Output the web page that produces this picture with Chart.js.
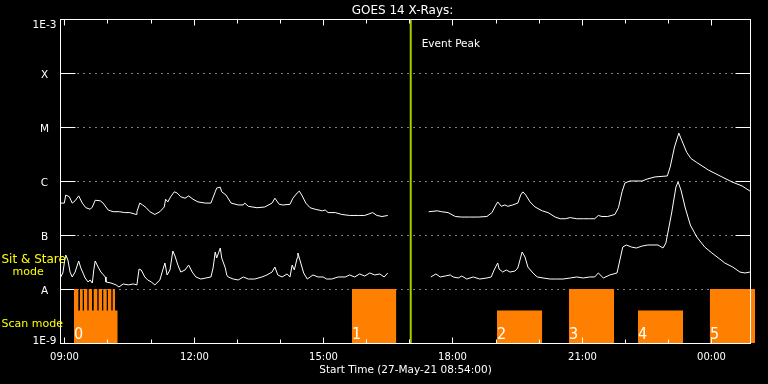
<!DOCTYPE html>
<html>
<head>
<meta charset="utf-8">
<title>GOES 14 X-Rays</title>
<script src="https://cdn.jsdelivr.net/npm/chart.js@4.4.1/dist/chart.umd.min.js"></script>
<style>
  html, body { margin: 0; padding: 0; background: #000; }
  canvas { display: block; }
</style>
</head>
<body>
<canvas id="goesChart" width="768" height="384"></canvas>
<script>
// all times are minutes after the start time 27-May-21 08:54:00
const startClock = 8 * 60 + 54;
const plotEnd = 960;   // right edge of the frame (00:54)
const scaleEnd = 967;  // the last scan block runs a bit past the frame

const titleText = 'GOES 14 X-Rays:';
const xTitleText = 'Start Time (27-May-21 08:54:00)';

// GOES 14 long channel (1-8 A), W/m^2
const longTimes = [
  1, 6, 8, 13, 17, 21, 26, 31, 36, 42,
  45, 49, 56, 60, 67, 74, 83, 90, 97, 106,
  107, 111, 115, 120, 125, 132, 139, 145, 147, 150,
  154, 159, 163, 168, 174, 179, 185, 192, 202, 210,
  216, 218, 223, 225, 231, 238, 248, 255, 257, 262,
  274, 285, 295, 299, 305, 310, 320, 324, 330, 333,
  337, 342, 348, 355, 365, 369, 373, 383, 392, 403,
  415, 424, 435, 441, 448, 456, 480, 513, 525, 531,
  540, 550, 559, 570, 582, 594, 601, 605, 609, 614,
  619, 623, 630, 637, 641, 644, 648, 654, 661, 671,
  679, 689, 696, 703, 710, 719, 728, 737, 744, 749,
  754, 762, 772, 777, 782, 786, 793, 810, 817, 828,
  845, 849, 855, 861, 865, 872, 878, 886, 902, 921,
  935, 949, 960
];
const longFlux = [
  3.9e-7, 3.9e-7, 5.5e-7, 5.1e-7, 3.9e-7, 4.3e-7, 5.3e-7, 3.9e-7, 3.2e-7, 3.0e-7,
  3.3e-7, 4.4e-7, 4.3e-7, 3.9e-7, 2.9e-7, 2.7e-7, 2.7e-7, 2.6e-7, 2.6e-7, 2.4e-7,
  2.7e-7, 3.9e-7, 3.6e-7, 3.2e-7, 2.7e-7, 2.4e-7, 2.7e-7, 3.3e-7, 4.6e-7, 4.1e-7,
  5.1e-7, 6.3e-7, 6.0e-7, 5.1e-7, 4.8e-7, 5.3e-7, 4.6e-7, 4.1e-7, 3.9e-7, 3.9e-7,
  6.3e-7, 7.4e-7, 7.7e-7, 6.3e-7, 5.5e-7, 3.9e-7, 3.6e-7, 3.6e-7, 3.9e-7, 3.4e-7,
  3.2e-7, 3.3e-7, 3.9e-7, 4.8e-7, 3.7e-7, 3.6e-7, 3.7e-7, 4.8e-7, 6.0e-7, 6.5e-7,
  5.3e-7, 3.9e-7, 3.2e-7, 3.0e-7, 2.8e-7, 2.9e-7, 2.6e-7, 2.6e-7, 2.4e-7, 2.3e-7,
  2.3e-7, 2.3e-7, 2.6e-7, 2.3e-7, 2.2e-7, 2.3e-7, null, 2.7e-7, 2.8e-7, 2.7e-7,
  2.6e-7, 2.2e-7, 2.15e-7, 2.15e-7, 2.15e-7, 2.2e-7, 2.6e-7, 3.3e-7, 4.1e-7, 3.4e-7,
  3.6e-7, 3.4e-7, 3.6e-7, 3.9e-7, 5.5e-7, 6.3e-7, 5.5e-7, 4.1e-7, 3.3e-7, 2.8e-7,
  2.6e-7, 2.15e-7, 2.0e-7, 2.0e-7, 2.1e-7, 2.0e-7, 2.0e-7, 2.0e-7, 2.0e-7, 2.3e-7,
  2.2e-7, 2.2e-7, 2.4e-7, 3.2e-7, 6.3e-7, 9.2e-7, 1.0e-6, 1.0e-6, 1.09e-6, 1.19e-6,
  1.24e-6, 1.82e-6, 4.26e-6, 7.7e-6, 5.7e-6, 3.4e-6, 2.6e-6, 2.2e-6, 1.6e-6, 1.19e-6,
  9.6e-7, 8.1e-7, 6.5e-7
];

// GOES 14 short channel (0.5-4 A)
const shortTimes = [
  1, 4, 7, 8, 11, 14, 17, 21, 26, 29,
  35, 39, 42, 45, 47, 49, 53, 57, 63, 64,
  71, 78, 82, 88, 95, 102, 107, 110, 113, 118,
  122, 127, 132, 139, 143, 146, 149, 153, 157, 160,
  164, 168, 174, 179, 184, 189, 196, 203, 210, 213,
  216, 218, 223, 225, 230, 232, 234, 241, 248, 255,
  262, 271, 281, 288, 295, 299, 303, 309, 316, 320,
  323, 326, 330, 331, 335, 339, 344, 348, 352, 359,
  366, 371, 378, 387, 397, 403, 410, 417, 424, 431,
  438, 445, 451, 456, 480, 516, 523, 529, 536, 543,
  547, 554, 559, 566, 575, 584, 594, 600, 604, 609,
  611, 616, 621, 626, 633, 637, 640, 643, 647, 651,
  658, 664, 672, 682, 691, 700, 710, 719, 728, 737,
  744, 749, 756, 765, 775, 779, 783, 788, 795, 802,
  810, 818, 832, 839, 843, 851, 857, 860, 864, 870,
  877, 886, 897, 907, 918, 925, 936, 946, 953, 960
];
const shortFlux = [
  1.67e-8, 1.98e-8, 3.75e-8, 4.26e-8, 3.44e-8, 2.06e-8, 1.67e-8, 2.06e-8, 3.3e-8, 2.45e-8,
  1.6e-8, 1.35e-8, 1.47e-8, 1.29e-8, 2.25e-8, 3.3e-8, 2.55e-8, 2.06e-8, 1.67e-8, 1.35e-8,
  1.29e-8, 1.19e-8, 1.09e-8, 1.24e-8, 1.19e-8, 1.24e-8, 1.19e-8, 2.34e-8, 2.25e-8, 1.67e-8,
  1.47e-8, 1.35e-8, 1.19e-8, 1.47e-8, 2.25e-8, 3.03e-8, 1.82e-8, 2.25e-8, 5.05e-8, 4.08e-8,
  2.78e-8, 2.06e-8, 2.25e-8, 2.78e-8, 2.06e-8, 1.67e-8, 1.53e-8, 1.6e-8, 1.67e-8, 2.45e-8,
  4.84e-8, 3.75e-8, 5.74e-8, 3.75e-8, 2.45e-8, 1.82e-8, 1.67e-8, 1.53e-8, 1.47e-8, 1.67e-8,
  1.53e-8, 1.53e-8, 1.67e-8, 1.82e-8, 2.06e-8, 2.55e-8, 1.82e-8, 1.67e-8, 1.9e-8, 1.67e-8,
  2.78e-8, 2.25e-8, 3.75e-8, 4.64e-8, 3.03e-8, 1.98e-8, 1.53e-8, 1.67e-8, 1.82e-8, 1.67e-8,
  1.67e-8, 1.53e-8, 1.53e-8, 1.67e-8, 1.67e-8, 1.82e-8, 1.67e-8, 1.9e-8, 1.74e-8, 1.98e-8,
  1.82e-8, 1.9e-8, 1.67e-8, 1.98e-8, null, 1.67e-8, 1.9e-8, 1.67e-8, 1.74e-8, 1.82e-8,
  1.67e-8, 1.6e-8, 1.74e-8, 1.53e-8, 1.67e-8, 1.53e-8, 1.6e-8, 1.67e-8, 2.25e-8, 3.03e-8,
  2.34e-8, 2.06e-8, 2.25e-8, 2.06e-8, 2.15e-8, 2.45e-8, 3.44e-8, 4.84e-8, 3.91e-8, 2.55e-8,
  1.98e-8, 1.67e-8, 1.6e-8, 1.53e-8, 1.53e-8, 1.53e-8, 1.6e-8, 1.67e-8, 1.6e-8, 1.67e-8,
  1.67e-8, 1.98e-8, 1.6e-8, 1.82e-8, 1.98e-8, 3.44e-8, 5.99e-8, 6.53e-8, 5.99e-8, 5.74e-8,
  6.25e-8, 6.53e-8, 6.53e-8, 5.74e-8, 7.11e-8, 2.55e-7, 7.74e-7, 9.58e-7, 6.81e-7, 3.16e-7,
  1.53e-7, 9.18e-8, 5.99e-8, 4.64e-8, 3.59e-8, 3.03e-8, 2.55e-8, 2.06e-8, 1.98e-8, 2.06e-8
];

// observing mode blocks, top value 1E-8 = sit & stare, 4E-9 = scan
const scanStart = [19.5, 25.5, 27.8, 31.6, 33.4, 38.0, 39.9, 44.5, 46.9, 51.9,
  53.8, 58.4, 60.2, 65.0, 66.8, 71.4, 73.3, 76.5, 406, 608, 708, 804, 904];
const scanEnd = [25.5, 27.8, 31.6, 33.4, 38.0, 39.9, 44.5, 46.9, 51.9, 53.8,
  58.4, 60.2, 65.0, 66.8, 71.4, 73.3, 76.5, 80.3, 468, 671, 771, 867, 967];
const scanTop = [1e-8, 4e-9, 1e-8, 4e-9, 1e-8, 4e-9, 1e-8, 4e-9, 1e-8, 4e-9,
  1e-8, 4e-9, 1e-8, 4e-9, 1e-8, 4e-9, 1e-8, 4e-9, 1e-8, 4e-9, 1e-8, 4e-9, 1e-8];

const obsLabels = ['0', '1', '2', '3', '4', '5'];
const obsTimes = [19.5, 406, 608, 708, 804, 904];

const eventPeak = 488;

const levelValues = [1e-9, 1e-8, 1e-7, 1e-6, 1e-5, 1e-4, 1e-3];
const levelLabels = ['1E-9', 'A', 'B', 'C', 'M', 'X', '1E-3'];

// step outline for the mode blocks, null where a block ends
const scanPoints = [];
scanStart.forEach((s, i) => {
  scanPoints.push({ x: s, y: scanTop[i] }, { x: scanEnd[i], y: scanTop[i] });
  if (scanStart[i + 1] !== scanEnd[i]) scanPoints.push({ x: scanEnd[i], y: null });
});

function hhmm(m) {
  const t = (startClock + m) % 1440;
  const h = Math.floor(t / 60), mm = Math.round(t % 60);
  return String(h).padStart(2, '0') + ':' + String(mm).padStart(2, '0');
}

function line(ctx, x1, y1, x2, y2) {
  ctx.beginPath();
  ctx.moveTo(x1, y1);
  ctx.lineTo(x2, y2);
  ctx.stroke();
}

const goesFrame = {
  id: 'goesFrame',
  beforeDatasetsDraw(chart) {
    const { ctx, scales: { x, y } } = chart;
    const left = Math.round(x.getPixelForValue(0)) + 0.5;
    const right = Math.round(x.getPixelForValue(plotEnd)) + 0.5;
    ctx.save();
    ctx.strokeStyle = '#fff';
    ctx.lineWidth = 1;
    levelValues.slice(1, -1).forEach(v => {
      const py = Math.round(y.getPixelForValue(v)) + 0.5;
      ctx.setLineDash([]);
      line(ctx, left, py, left + 15, py);
      line(ctx, right - 15, py, right, py);
      ctx.setLineDash([1, 5]);
      line(ctx, left + 17, py, right - 15, py);
    });
    ctx.restore();
  },
  afterDatasetsDraw(chart) {
    const { ctx, scales: { x, y } } = chart;
    const left = Math.round(x.getPixelForValue(0)) + 0.5;
    const right = Math.round(x.getPixelForValue(plotEnd)) + 0.5;
    const top = Math.round(y.getPixelForValue(levelValues[6])) + 0.5;
    const bottom = Math.round(y.getPixelForValue(levelValues[0])) + 0.5;
    ctx.save();
    ctx.strokeStyle = '#fff';
    ctx.fillStyle = '#fff';
    ctx.lineWidth = 1;
    ctx.strokeRect(left, top, right - left, bottom - top);

    // hourly ticks, labels every 3 hours
    ctx.font = '10px "DejaVu Sans"';
    ctx.textAlign = 'center';
    ctx.textBaseline = 'alphabetic';
    for (let m = 6; m <= plotEnd; m += 60) {
      const px = Math.round(x.getPixelForValue(m)) + 0.5;
      const major = ((startClock + m) / 60) % 3 === 0;
      const len = major ? 6 : 4;
      line(ctx, px, top, px, top + len);
      line(ctx, px, bottom, px, bottom - len);
      if (major) ctx.fillText(hhmm(m), px, bottom + 16);
    }
    ctx.font = '10.5px "DejaVu Sans"';
    ctx.fillText(xTitleText, (left + right) / 2, bottom + 29);
    ctx.font = '12px "DejaVu Sans"';
    ctx.fillText(titleText, (left + right) / 2 - 3, 13.5);

    // flux class labels
    ctx.font = '10.5px "DejaVu Sans"';
    levelValues.forEach((v, i) => {
      const py = y.getPixelForValue(v);
      const base = Math.min(Math.max(py + 5, top + 8), bottom);
      ctx.fillText(levelLabels[i], 44.5, base);
    });

    // event peak label
    ctx.textAlign = 'left';
    ctx.fillText('Event Peak', x.getPixelForValue(eventPeak) + 11, top + 27);

    // numbers on the observing blocks
    ctx.font = '16px "Liberation Sans Narrow", "DejaVu Sans Condensed", "DejaVu Sans"';
    obsLabels.forEach((t, i) => {
      ctx.fillText(t, Math.round(x.getPixelForValue(obsTimes[i])), bottom - 4.5);
    });

    // mode names on the left
    ctx.fillStyle = '#ffff00';
    ctx.font = '12px "DejaVu Sans"';
    ctx.fillText('Sit & Stare', 1.5, 262.5);
    ctx.font = '11px "DejaVu Sans"';
    ctx.fillText('mode', 12.5, 275);
    ctx.fillText('Scan mode', 1.5, 327);
    ctx.restore();
  }
};

new Chart(document.getElementById('goesChart'), {
  type: 'line',
  data: {
    datasets: [
      {
        label: '1.0-8.0 A',
        data: longTimes.map((t, i) => ({ x: t, y: longFlux[i] })),
        borderColor: '#ffffff',
        borderWidth: 1,
        pointRadius: 0,
        fill: false
      },
      {
        label: '0.5-4.0 A',
        data: shortTimes.map((t, i) => ({ x: t, y: shortFlux[i] })),
        borderColor: '#ffffff',
        borderWidth: 1,
        pointRadius: 0,
        fill: false
      },
      {
        label: 'Event Peak',
        data: [{ x: eventPeak, y: levelValues[0] }, { x: eventPeak, y: levelValues[6] }],
        borderColor: '#a4cc00',
        borderWidth: 2,
        pointRadius: 0,
        fill: false
      },
      {
        label: 'Observing mode',
        data: scanPoints,
        borderColor: 'rgba(0,0,0,0)',
        backgroundColor: '#ff8000',
        borderWidth: 0,
        pointRadius: 0,
        fill: 'start'
      }
    ]
  },
  options: {
    responsive: false,
    animation: false,
    layout: { padding: { left: 60, top: 19, right: 13, bottom: 41 } },
    elements: { line: { tension: 0 } },
    scales: {
      x: { type: 'linear', min: 0, max: scaleEnd, display: false },
      y: { type: 'logarithmic', min: levelValues[0], max: levelValues[6], display: false }
    },
    plugins: {
      legend: { display: false },
      tooltip: { enabled: false }
    }
  },
  plugins: [goesFrame]
});
</script>
</body>
</html>
